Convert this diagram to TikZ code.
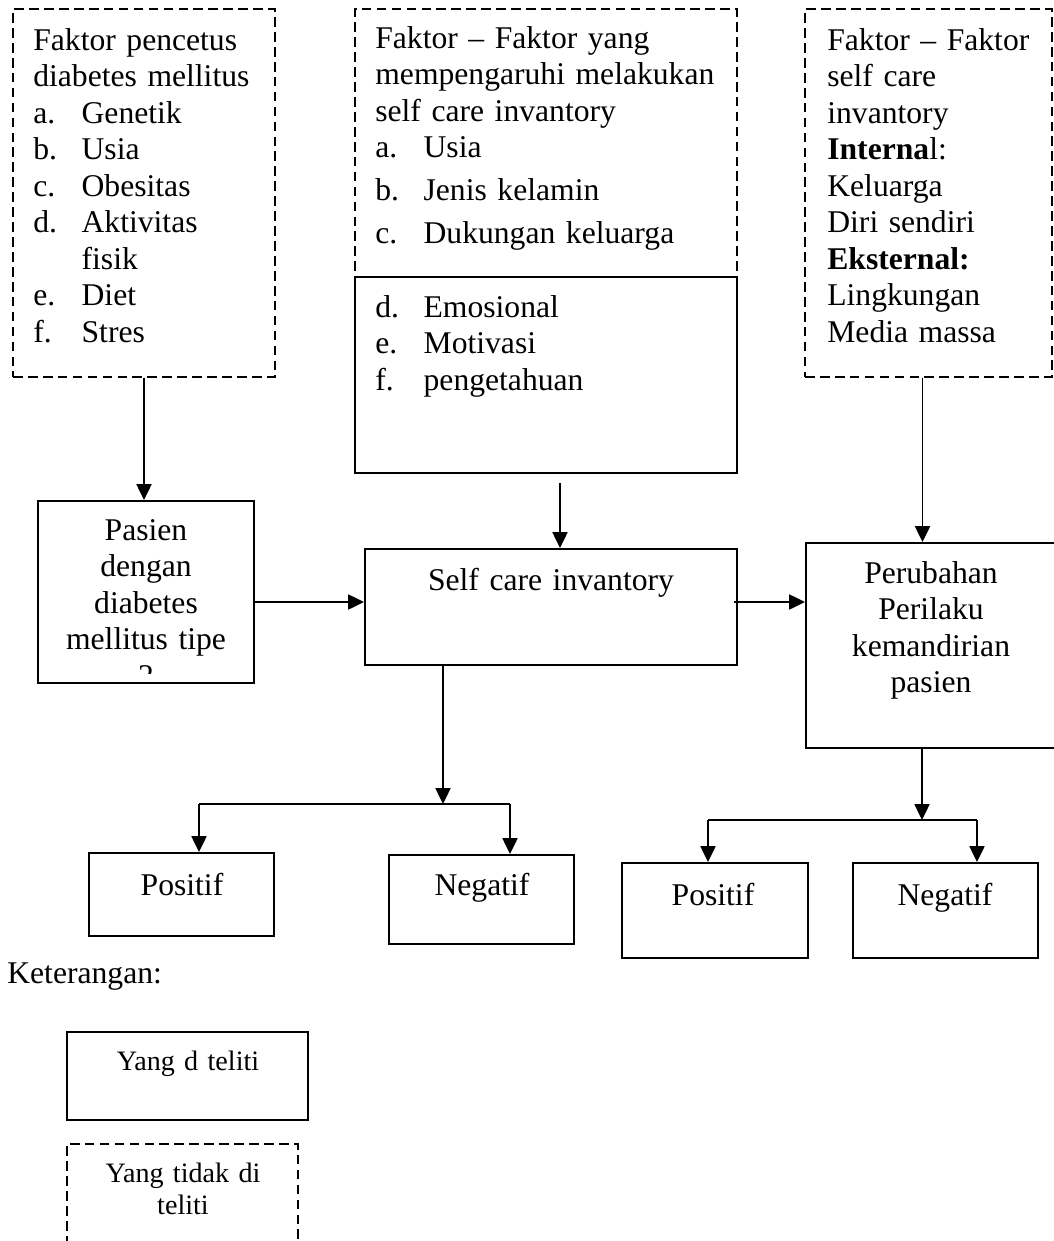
\documentclass[tikz,border=0pt]{standalone}
\usepackage{fontspec}
\setmainfont{Liberation Serif}
\usetikzlibrary{arrows.meta,fit,calc}

\newcommand{\itm}[2]{\makebox[27.5pt][l]{#1}#2}

\begin{document}
\begin{tikzpicture}[x=0.02cm, y=-0.02cm, >={Triangle[length=9pt,width=8.5pt]},
    box/.style={draw, line width=1.1pt, inner sep=0pt},
    dbox/.style={box, dash pattern=on 5.5pt off 3pt},
    txt/.style={inner sep=0pt, font=\fontsize{18}{20.8}\selectfont},
    lft/.style={txt, anchor=base west, align=left},
    mid/.style={txt, anchor=base, align=center},
    arr/.style={->, line width=1.1pt}]
    \useasboundingbox (0,0) rectangle (1054,1241);

    % top row: factors
    \node[dbox, fit={(13,9) (275,377)}] (faktorDM) {};
    \node[lft, text width=4.8cm] (tFaktorDM) at (33,50)
        {Faktor pencetus\\diabetes mellitus\\\itm{a.}{Genetik}\\\itm{b.}{Usia}\\
         \itm{c.}{Obesitas}\\\itm{d.}{Aktivitas}\\\itm{}{fisik}\\\itm{e.}{Diet}\\\itm{f.}{Stres}};
    \node[dbox, fit={(355,9) (737,277)}] (faktorSCa) {};
    \node[box, fit={(355,277) (737,473)}] (faktorSCb) {};
    \node[lft, text width=7.2cm] (tFaktorSCa) at (375,48)
        {Faktor – Faktor yang\\mempengaruhi melakukan\\self care invantory\\\itm{a.}{Usia}\\[3.6pt]
         \itm{b.}{Jenis kelamin}\\[3.6pt]\itm{c.}{Dukungan keluarga}};
    \node[lft, text width=7.2cm] (tFaktorSCb) at (375,317)
        {\itm{d.}{Emosional}\\\itm{e.}{Motivasi}\\\itm{f.}{pengetahuan}};
    \node[dbox, fit={(805,9) (1052,377)}] (faktorEI) {};
    \node[lft, text width=4.5cm] (tFaktorEI) at (827,50)
        {Faktor – Faktor\\self care\\invantory\\\textbf{Interna}l:\\Keluarga\\Diri sendiri\\
         \textbf{Eksternal:}\\Lingkungan\\Media massa};

    % middle row
    \node[box, fit={(38,501) (254,683)}] (pasien) {};
    \begin{scope}
        \clip (38,501) rectangle (254,673);
        \node[mid, text width=4cm] (tPasien) at (146,540)
            {Pasien\\dengan\\diabetes\\mellitus tipe\\2};
    \end{scope}
    \node[box, fit={(365,549) (737,665)}] (selfcare) {};
    \node[mid, text width=7cm] (tSelfcare) at (551,590) {Self care invantory};
    \node[box, fit={(806,543) (1060,748)}] (perubahan) {};
    \node[mid, text width=4.6cm] (tPerubahan) at (931,583)
        {Perubahan\\Perilaku\\kemandirian\\pasien};

    % bottom row
    \node[box, fit={(89,853) (274,936)}] (posL) {};
    \node[mid, text width=3cm] (tPosL) at (182,895) {Positif};
    \node[box, fit={(389,855) (574,944)}] (negL) {};
    \node[mid, text width=3cm] (tNegL) at (482,895) {Negatif};
    \node[box, fit={(622,863) (808,958)}] (posR) {};
    \node[mid, text width=3cm] (tPosR) at (713,905) {Positif};
    \node[box, fit={(853,863) (1038,958)}] (negR) {};
    \node[mid, text width=3cm] (tNegR) at (945,905) {Negatif};

    % connectors
    \coordinate (midrow) at (0,602);
    \draw[arr] (faktorDM.south) -- (faktorDM.south |- pasien.north);
    \coordinate (gapTop) at (560,483);
    \draw[arr] (gapTop) -- (gapTop |- selfcare.north);
    \coordinate (eiFoot) at ($(faktorEI.south)+(-6,0)$);
    \draw[arr] (eiFoot) -- (eiFoot |- perubahan.north);
    \draw[arr] (pasien.east |- midrow) -- (selfcare.west |- midrow);
    \draw[arr] ($(selfcare.east |- midrow)+(-4,0)$) -- (perubahan.west |- midrow);

    \coordinate (splitL) at (443,804);
    \coordinate (brLa) at (199,804);
    \coordinate (brLb) at (510,804);
    \draw[arr] (selfcare.south -| splitL) -- (splitL);
    \draw[line width=1.1pt] (brLa) -- (brLb);
    \draw[arr] (brLa) -- (brLa |- posL.north);
    \draw[arr] (brLb) -- (brLb |- negL.north);

    \coordinate (splitR) at (922,820);
    \coordinate (brRa) at (708,820);
    \coordinate (brRb) at (977,820);
    \draw[arr] (splitR |- perubahan.south) -- (splitR);
    \draw[line width=1.1pt] (brRa) -- (brRb);
    \draw[arr] (brRa) -- (brRa |- posR.north);
    \draw[arr] (brRb) -- (brRb |- negR.north);

    % legend
    \node[lft, text width=5cm] (keterangan) at (7,983) {Keterangan:};
    \node[box, fit={(67,1032) (308,1120)}] (legDiteliti) {};
    \node[mid, text width=4.6cm, font=\fontsize{16}{18.7}\selectfont] (tLegDiteliti) at (188,1070) {Yang d teliti};
    \node[dbox, fit={(67,1144) (298,1262)}] (legTidak) {};
    \node[mid, text width=4.4cm, font=\fontsize{16}{18.7}\selectfont] (tLegTidak) at (183,1182) {Yang tidak di\\teliti};
\end{tikzpicture}
\end{document}
